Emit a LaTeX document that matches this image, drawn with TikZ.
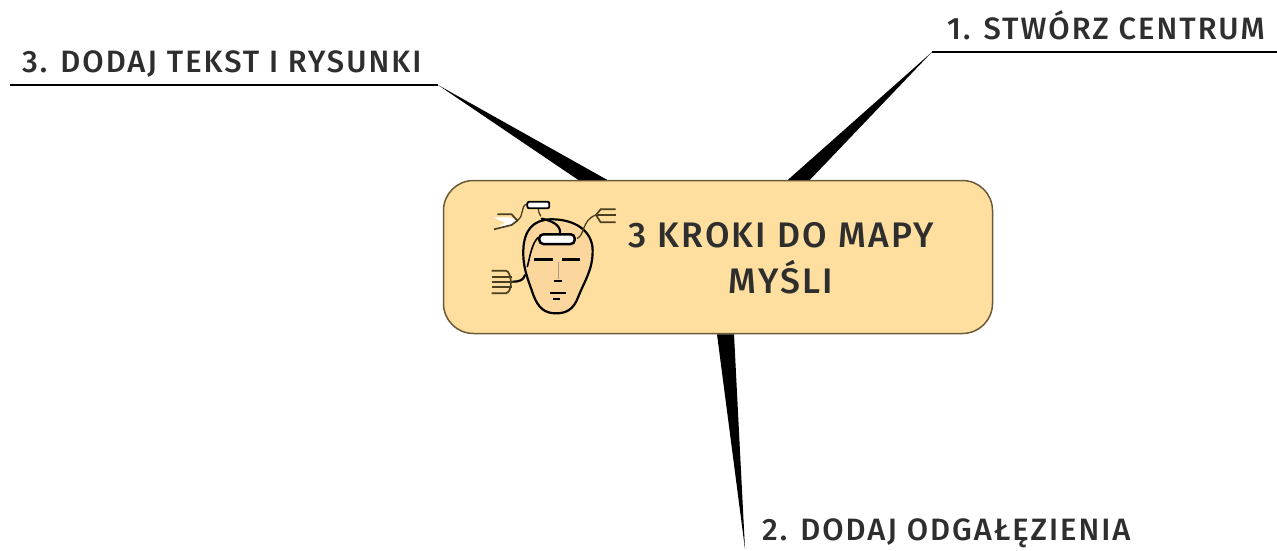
\documentclass[tikz,border=0pt]{standalone}
\usepackage{fontspec}
\setmainfont{Fira Sans Medium}[LetterSpace=6.5]
\usepackage{xcolor}
\usepackage{tikz}
\definecolor{boxfill}{HTML}{FEDF9F}
\definecolor{boxline}{HTML}{6B5A3A}
\definecolor{facefill}{HTML}{FBD79E}
\definecolor{inkgrey}{HTML}{2E2E2E}
\definecolor{forkline}{HTML}{4A3F1E}
\tikzset{
	stepnote/.style={anchor=base west, inner sep=0pt, text=inkgrey, font=\fontsize{30.9}{31}\selectfont},
	branch/.style={fill=black, draw=none},
	underline/.style={draw=black, line width=1.8pt},
	headline/.style={draw=black, line width=2.2pt, line cap=round},
	thinline/.style={draw=forkline, line width=1.3pt, line cap=round},
	forkbar/.style={draw=forkline, line width=1.7pt}
}

\begin{document}
\begin{tikzpicture}[x=1pt, y=-1pt]
	\useasboundingbox (0,0) rectangle (1277,550);
	\node [draw=boxline, fill=boxfill, line width=1.5pt, rounded corners=30pt, minimum width=549pt, minimum height=153pt, inner sep=0pt] (centre) at (718,257) {};
	\node [inner sep=0pt, align=center, text=inkgrey, font=\fontsize{35.5}{46}\selectfont] (title) at (781,258) {3 KROKI DO MAPY\\MYŚLI};
	\node [stepnote] (note1) at (947,39) {1. STWÓRZ CENTRUM};
	\node [stepnote] (note2) at (762,540) {2. DODAJ ODGAŁĘZIENIA};
	\node [stepnote] (note3) at (22,72) {3. DODAJ TEKST I RYSUNKI};
	\coordinate (tip1) at (932,52);
	\coordinate (end1) at (1277,52);
	\coordinate (tip2) at (745,549);
	\coordinate (tip3) at (438,85);
	\coordinate (end3) at (10,85);
	\fill [branch] ([xshift=70pt]centre.north) -- (tip1) -- ([xshift=92pt]centre.north) -- cycle;
	\fill [branch] ([xshift=-1pt]centre.south) -- (tip2) -- ([xshift=16pt]centre.south) -- cycle;
	\fill [branch] ([xshift=-140pt]centre.north) -- (tip3) -- ([xshift=-111pt]centre.north) -- cycle;
	\draw [underline] (tip1) -- (end1);
	\draw [underline] (tip3) -- (end3);
	% head icon
	\begin{scope}[shift={(470,180)}, x=0.3333pt, y=-0.3333pt]
		\fill [white] (70,112) -- (120,112) -- (142,122) -- (120,140) -- (70,150) -- (105,128) -- cycle;
		\draw [forkbar] (82,103) -- (125,103) -- (142,122) -- (125,135) -- (72,148);
		\draw [headline, fill=facefill] (240,118) .. controls (310,116) and (368,150) .. (368,212) .. controls (368,270) and (345,300) .. (325,350) .. controls (310,392) and (285,400) .. (258,400) .. controls (225,400) and (205,385) .. (190,345) .. controls (175,300) and (158,265) .. (160,210) .. controls (162,150) and (190,120) .. (240,118) -- cycle;
		\draw [headline, line width=1.6pt] (205,172) .. controls (185,190) and (180,230) .. (172,260);
		\draw [headline] (165,285) .. controls (160,300) and (150,305) .. (128,305);
		\draw [headline] (270,158) .. controls (272,135) and (245,122) .. (215,116);
		\draw [thinline] (212,108) .. controls (208,100) and (205,95) .. (205,88);
		\draw [thinline] (172,72) .. controls (150,75) and (165,110) .. (140,122);
		\draw [thinline] (322,175) .. controls (345,165) and (335,120) .. (378,105);
		\draw [headline, fill=white, rounded corners=4pt, line width=2.5pt] (208,163) rectangle (314,192);
		\draw [headline, fill=white, rounded corners=2pt, line width=1.8pt] (172,65) rectangle (238,85);
		\draw [forkbar] (437,88) -- (392,88) -- (378,105) -- (392,127) -- (437,127);
		\draw [forkbar] (378,105) -- (437,105);
		\draw [forkbar] (65,272) -- (108,272) .. controls (125,275) and (130,335) .. (108,340) -- (65,340);
		\draw [forkbar] (65,290) -- (125,290);
		\draw [forkbar] (65,305) -- (128,305);
		\draw [forkbar] (65,322) -- (125,322);
		\draw [headline, line width=3pt, line cap=butt] (193,240) -- (250,240);
		\draw [headline, line width=3pt, line cap=butt] (277,240) -- (331,240);
		\draw [draw=boxline!60, line width=0.6pt] (265,245) -- (265,298);
		\draw [headline, line width=2pt, line cap=butt] (252,303) -- (276,303);
		\draw [headline, line width=2pt, line cap=butt] (240,340) -- (288,340);
		\draw [headline, line width=1.8pt, line cap=butt] (250,358) -- (270,358);
	\end{scope}
\end{tikzpicture}
\end{document}
